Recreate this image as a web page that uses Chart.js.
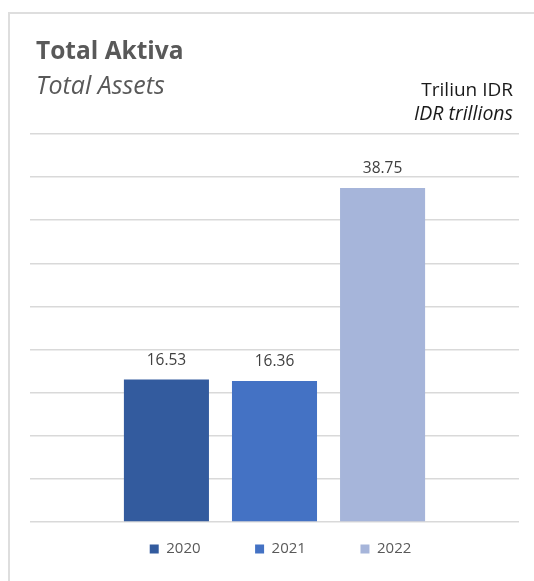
<!DOCTYPE html>
<html>
<head>
<meta charset="utf-8">
<script src="https://cdn.jsdelivr.net/npm/chart.js"></script>
<style>
  body { margin: 0; background: #fff; font-family: "Open Sans", sans-serif; }
  #frame { position: absolute; left: 8px; top: 12px; width: 600px; height: 600px; border: 2px solid #dedede; box-sizing: border-box; }
  #chartBox { position: absolute; left: 0; top: 0; }
  .txt { position: absolute; white-space: nowrap; }
  #title { left: 36px; top: 38px; font-size: 24.5px; line-height: 24px; font-weight: bold; color: #595959; }
  #subtitle { left: 36px; top: 72px; font-size: 25px; line-height: 25px; font-style: italic; color: #595959; }
  #unit { right: 21px; top: 80px; font-size: 19px; line-height: 19px; color: #1a1a1a; }
  #unitEn { right: 21px; top: 103px; font-size: 19.5px; line-height: 19px; font-style: italic; color: #1a1a1a; }
</style>
</head>
<body>
<div id="frame"></div>
<div id="chartBox"><canvas id="barChart" width="534" height="581"></canvas></div>
<div class="txt" id="title">Total Aktiva</div>
<div class="txt" id="subtitle">Total Assets</div>
<div class="txt" id="unit">Triliun IDR</div>
<div class="txt" id="unitEn">IDR trillions</div>
<script>
// data
const years = ['2020', '2021', '2022'];
const totals = [16.53, 16.36, 38.75];
const barColors = ['#335b9e', '#4472c4', '#a6b5da'];
const yMax = 45;
const yStep = 5;

// value labels above each bar
const valueLabels = {
    id: 'valueLabels',
    afterDatasetsDraw(chart) {
        const ctx = chart.ctx;
        ctx.save();
        ctx.font = '15.5px "Open Sans"';
        ctx.fillStyle = '#404040';
        ctx.textAlign = 'center';
        ctx.textBaseline = 'middle';
        chart.data.datasets.forEach((ds, i) => {
            chart.getDatasetMeta(i).data.forEach((bar, j) => {
                ctx.fillText(ds.data[j].toFixed(2), bar.x, bar.y - 19);
            });
        });
        ctx.restore();
    }
};

// nudge the legend a little right so it sits centred under the frame
const legendShift = {
    id: 'legendShift',
    afterLayout(chart) {
        chart.legend.left += 6;
        chart.legend.right += 6;
    }
};

const datasets = years.map((yr, i) => ({
    label: yr,
    data: [totals[i]],
    backgroundColor: barColors[i],
    categoryPercentage: 0.663,
    barPercentage: 0.787
}));

const ctx = document.getElementById('barChart').getContext('2d');
new Chart(ctx, {
    type: 'bar',
    data: {
        labels: [''],
        datasets: datasets
    },
    options: {
        responsive: false,
        animation: false,
        layout: {
            padding: { left: 30, right: 15, top: 134, bottom: 14.5 }
        },
        scales: {
            x: { display: false },
            y: {
                min: 0,
                max: yMax,
                ticks: { display: false, stepSize: yStep },
                grid: { color: '#d9d9d9', lineWidth: 1.5, drawTicks: false },
                border: { display: false }
            }
        },
        plugins: {
            tooltip: { enabled: false },
            legend: {
                position: 'bottom',
                labels: {
                    boxWidth: 9,
                    boxHeight: 9,
                    padding: 19.5,
                    color: '#595959',
                    font: { size: 15, family: 'Open Sans' },
                    generateLabels(chart) {
                        const items = Chart.defaults.plugins.legend.labels.generateLabels(chart);
                        items.forEach((it, i) => {
                            it.lineWidth = 0;
                            if (i < items.length - 1) it.text = it.text + '         ';
                        });
                        return items;
                    }
                }
            }
        }
    },
    plugins: [valueLabels, legendShift]
});
</script>
</body>
</html>
